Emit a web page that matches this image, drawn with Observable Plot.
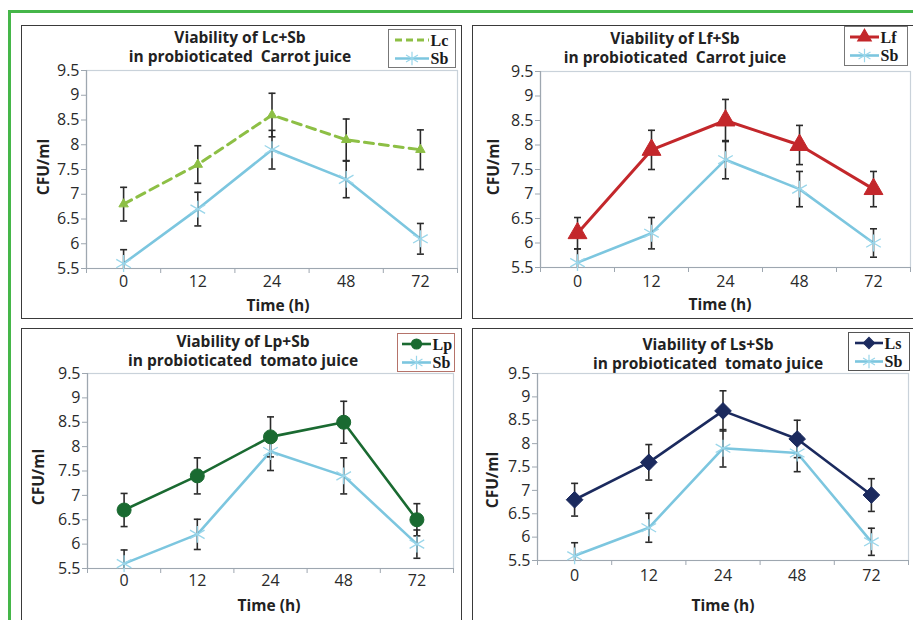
<!DOCTYPE html>
<html><head><meta charset="utf-8">
<script src="https://cdn.jsdelivr.net/npm/d3@7"></script>
<script src="https://cdn.jsdelivr.net/npm/@observablehq/plot@0.6"></script>
<style>
html,body{margin:0;padding:0;background:#fff;}
body{width:913px;height:620px;overflow:hidden;position:relative;font-family:"Open Sans",sans-serif;color:#222;}
.abs{position:absolute;}
.frame{position:absolute;border:1.5px solid #3a3a3a;box-sizing:border-box;background:#fff;}
.title{position:absolute;width:340px;text-align:center;font-weight:bold;font-size:15.5px;line-height:19px;white-space:pre;color:#222;}
.ylab{position:absolute;font-weight:bold;font-size:15.5px;line-height:16px;white-space:nowrap;transform:translate(-50%,-50%) rotate(-90deg);color:#222;}
.xlab{position:absolute;font-weight:bold;font-size:15.5px;line-height:16px;white-space:nowrap;transform:translate(-50%,-50%);color:#222;}
.legend{position:absolute;box-sizing:border-box;background:#fff;overflow:visible;}
</style></head><body>
<div class="abs" style="left:8px;top:10px;width:1000px;height:700px;border-left:3px solid #45b649;border-top:3px solid #45b649;"></div>
<script>
// ---------- data ----------
const times = ["0","12","24","48","72"];
const yTicks = [5.5,6,6.5,7,7.5,8,8.5,9,9.5];

const titles1 = ["Viability of Lc+Sb", "in probioticated  Carrot juice"];
const titles2 = ["Viability of Lf+Sb", "in probioticated  Carrot juice"];
const titles3 = ["Viability of Lp+Sb", "in probioticated  tomato juice"];
const titles4 = ["Viability of Ls+Sb", "in probioticated  tomato juice"];
const seriesNames = ["Lc","Lf","Lp","Ls","Sb"];
const yLabel = "CFU/ml";
const xLabel = "Time (h)";

const lcValues = [6.8, 7.6, 8.6, 8.1, 7.9];
const lcErrors = [0.34, 0.38, 0.44, 0.42, 0.40];
const sbLcValues = [5.6, 6.7, 7.9, 7.3, 6.1];
const sbLcErrors = [0.28, 0.34, 0.39, 0.37, 0.31];

const lfValues = [6.2, 7.9, 8.5, 8.0, 7.1];
const lfErrors = [0.32, 0.40, 0.43, 0.40, 0.36];
const sbLfValues = [5.6, 6.2, 7.7, 7.1, 6.0];
const sbLfErrors = [0.28, 0.32, 0.39, 0.36, 0.29];

const lpValues = [6.7, 7.4, 8.2, 8.5, 6.5];
const lpErrors = [0.34, 0.37, 0.41, 0.43, 0.33];
const sbLpValues = [5.6, 6.2, 7.9, 7.4, 6.0];
const sbLpErrors = [0.28, 0.31, 0.39, 0.37, 0.29];

const lsValues = [6.8, 7.6, 8.7, 8.1, 6.9];
const lsErrors = [0.35, 0.38, 0.43, 0.40, 0.35];
const sbLsValues = [5.6, 6.2, 7.9, 7.8, 5.9];
const sbLsErrors = [0.28, 0.31, 0.40, 0.40, 0.29];

// ---------- styles ----------
const SB = {color:"#7cc6df", marker:"asterisk", r:8, markerStroke:"#9ad6ea", width:2.6, dash:null, fill:false};
const styles = {
  Lc:{color:"#8dbf45", marker:"triangle", r:3.5, width:3, dash:"9,6", fill:true},
  Lf:{color:"#c3272b", marker:"triangle", r:7, width:3, dash:null, fill:true},
  Lp:{color:"#1a6a31", marker:"circle", r:7, width:2.6, dash:null, fill:true},
  Ls:{color:"#1b2a5e", marker:"diamond2", r:7.5, width:2.6, dash:null, fill:true}
};

const panels = [
  {name:"Lc", titles:titles1, vals:lcValues, errs:lcErrors, sbv:sbLcValues, sbe:sbLcErrors,
   frame:{x:21,y:25,w:441,h:294}, plot:{l:86,t:70,r:457,b:268}, tc:240, ty:28, xpad:7,
   ylab:[43,167], xlab:[278,305], leg:{x:388,y:29,w:68,h:39,border:"#777",x1:7,x2:41}},
  {name:"Lf", titles:titles2, vals:lfValues, errs:lfErrors, sbv:sbLfValues, sbe:sbLfErrors,
   frame:{x:472,y:25,w:460,h:294}, plot:{l:540,t:71,r:910,b:267}, tc:675, ty:29, xpad:8,
   ylab:[493,167], xlab:[720,304], leg:{x:844,y:26,w:64,h:40,border:"#777",x1:6,x2:35}},
  {name:"Lp", titles:titles3, vals:lpValues, errs:lpErrors, sbv:sbLpValues, sbe:sbLpErrors,
   frame:{x:21,y:328,w:441,h:310}, plot:{l:87,t:373,r:453,b:568}, tc:243, ty:332, xpad:6,
   ylab:[38,477], xlab:[269,605], leg:{x:397,y:333,w:58,h:39,border:"#b5736a",x1:5,x2:34}},
  {name:"Ls", titles:titles4, vals:lsValues, errs:lsErrors, sbv:sbLsValues, sbe:sbLsErrors,
   frame:{x:472,y:328,w:460,h:310}, plot:{l:537,t:373,r:908,b:560}, tc:708, ty:335, xpad:9,
   ylab:[492,480], xlab:[723,605], leg:{x:848,y:332,w:62,h:39,border:"#555",x1:7,x2:35}}
];

const capSymbol = {draw(ctx){ ctx.moveTo(-3.5,0); ctx.lineTo(3.5,0); }};
const AXIS = "#9ea7b0";

function rows(vals, errs){
  return times.map((t,i)=>({i, t, v:vals[i], lo:vals[i]-errs[i], hi:vals[i]+errs[i]}));
}

function seriesMarks(data, st){
  return [Plot.line(data, {x:"i", y:"v", stroke:st.color, strokeWidth:st.width, strokeDasharray:st.dash})];
}
function markerMarks(data, st){
  if (st.fill) return [Plot.dot(data, {x:"i", y:"v", symbol:st.marker, r:st.r, fill:st.color, stroke:st.color, strokeWidth:1})];
  return [Plot.dot(data, {x:"i", y:"v", symbol:st.marker, r:st.r, stroke:st.markerStroke, strokeWidth:1.3})];
}
function errMarks(data){
  return [
    Plot.ruleX(data, {x:"i", y1:"lo", y2:"hi", stroke:"#2b2b2b", strokeWidth:1.6, clip:true}),
    Plot.dot(data, {x:"i", y:"hi", symbol:capSymbol, stroke:"#2b2b2b", strokeWidth:1.6}),
    Plot.dot(data.filter(d=>d.lo>=5.5), {x:"i", y:"lo", symbol:capSymbol, stroke:"#2b2b2b", strokeWidth:1.6})
  ];
}

function el(cls, style, text){
  const d = document.createElement("div");
  d.className = cls;
  Object.assign(d.style, style);
  if (text != null) d.textContent = text;
  document.body.appendChild(d);
  return d;
}

function drawLegend(p, st){
  const L = p.leg;
  const d = el("legend", {left:L.x+"px", top:L.y+"px", width:L.w+"px", height:L.h+"px", border:"1.5px solid "+L.border});
  const svg = d3.create("svg").attr("width", L.w).attr("height", L.h)
    .style("position","absolute").style("left","-1.5px").style("top","-1.5px").style("overflow","visible");
  const items = [{name:p.name, st}, {name:"Sb", st:SB}];
  items.forEach((it,k)=>{
    const y = k===0 ? 11 : 29.5;
    const x1 = L.x1, x2 = L.x2;
    svg.append("line").attr("x1",x1).attr("x2",x2).attr("y1",y).attr("y2",y)
      .attr("stroke",it.st.color).attr("stroke-width",it.st.width)
      .attr("stroke-dasharray", it.st.dash ? "7,4" : null);
    if (it.name !== "Lc") {
      const sym = {triangle:d3.symbolTriangle, circle:d3.symbolCircle, diamond2:d3.symbolDiamond2, asterisk:d3.symbolAsterisk}[it.st.marker];
      const rr = it.st.fill ? Math.min(it.st.r, 5) : 6.5;
      svg.append("path").attr("transform",`translate(${(x1+x2)/2},${y})`)
        .attr("d", d3.symbol(sym, Math.PI*rr*rr)())
        .attr("fill", it.st.fill ? it.st.color : "none")
        .attr("stroke", it.st.fill ? it.st.color : it.st.markerStroke).attr("stroke-width",1.2);
    }
    svg.append("text").attr("x", x2+1.5).attr("y", y+5.5).text(it.name)
      .attr("font-family","'Liberation Serif','DejaVu Serif',serif").attr("font-weight","bold").attr("font-size",16).attr("fill","#1a1a1a");
  });
  d.appendChild(svg.node());
}

for (const p of panels){
  const st = styles[p.name];
  el("frame", {left:p.frame.x+"px", top:p.frame.y+"px", width:p.frame.w+"px", height:p.frame.h+"px"});
  el("title", {left:(p.tc-170)+"px", top:p.ty+"px"}, p.titles[0]+"\n"+p.titles[1]);
  el("ylab", {left:p.ylab[0]+"px", top:p.ylab[1]+"px"}, yLabel);
  el("xlab", {left:p.xlab[0]+"px", top:p.xlab[1]+"px"}, xLabel);

  const W = p.plot.r - p.plot.l, H = p.plot.b - p.plot.t;
  const mL = 50, mR = 6, mT = 6, mB = 30;
  const lData = rows(p.vals, p.errs);
  const sData = rows(p.sbv, p.sbe);
  const chart = Plot.plot({
    width: W + mL + mR, height: H + mT + mB,
    marginLeft: mL, marginRight: mR, marginTop: mT, marginBottom: mB,
    x: {type:"linear", domain:[-0.5, 4.5]},
    y: {type:"linear", domain:[5.5, 9.5]},
    style: {fontFamily:"'Open Sans',sans-serif", fontSize:"16px", color:"#2a2a2a", background:"transparent", overflow:"visible"},
    marks: [
      Plot.frame({stroke:"#c9d2da", strokeWidth:1.2}),
      Plot.axisY({ticks:yTicks, tickFormat:d=>String(d), tickSize:5, tickPadding:2, stroke:AXIS, label:null, fontSize:16}),
      Plot.ruleX([-0.5], {stroke:AXIS, strokeWidth:1.2}),
      Plot.ruleY([5.5], {stroke:AXIS, strokeWidth:1.2}),
      Plot.axisX({ticks:[0,1,2,3,4], tickFormat:i=>times[i], tickSize:0, tickPadding:p.xpad, label:null, fontSize:16}),
      Plot.axisX({ticks:[-0.5,0.5,1.5,2.5,3.5,4.5], tickFormat:()=>"", tickSize:5, stroke:AXIS, label:null}),
      ...seriesMarks(sData, SB),
      ...seriesMarks(lData, st),
      ...errMarks(sData),
      ...errMarks(lData),
      ...markerMarks(sData, SB),
      ...markerMarks(lData, st)
    ]
  });
  chart.style.position = "absolute";
  chart.style.left = (p.plot.l - mL) + "px";
  chart.style.top = (p.plot.t - mT) + "px";
  document.body.appendChild(chart);
  drawLegend(p, st);
}
</script>
</body></html>
